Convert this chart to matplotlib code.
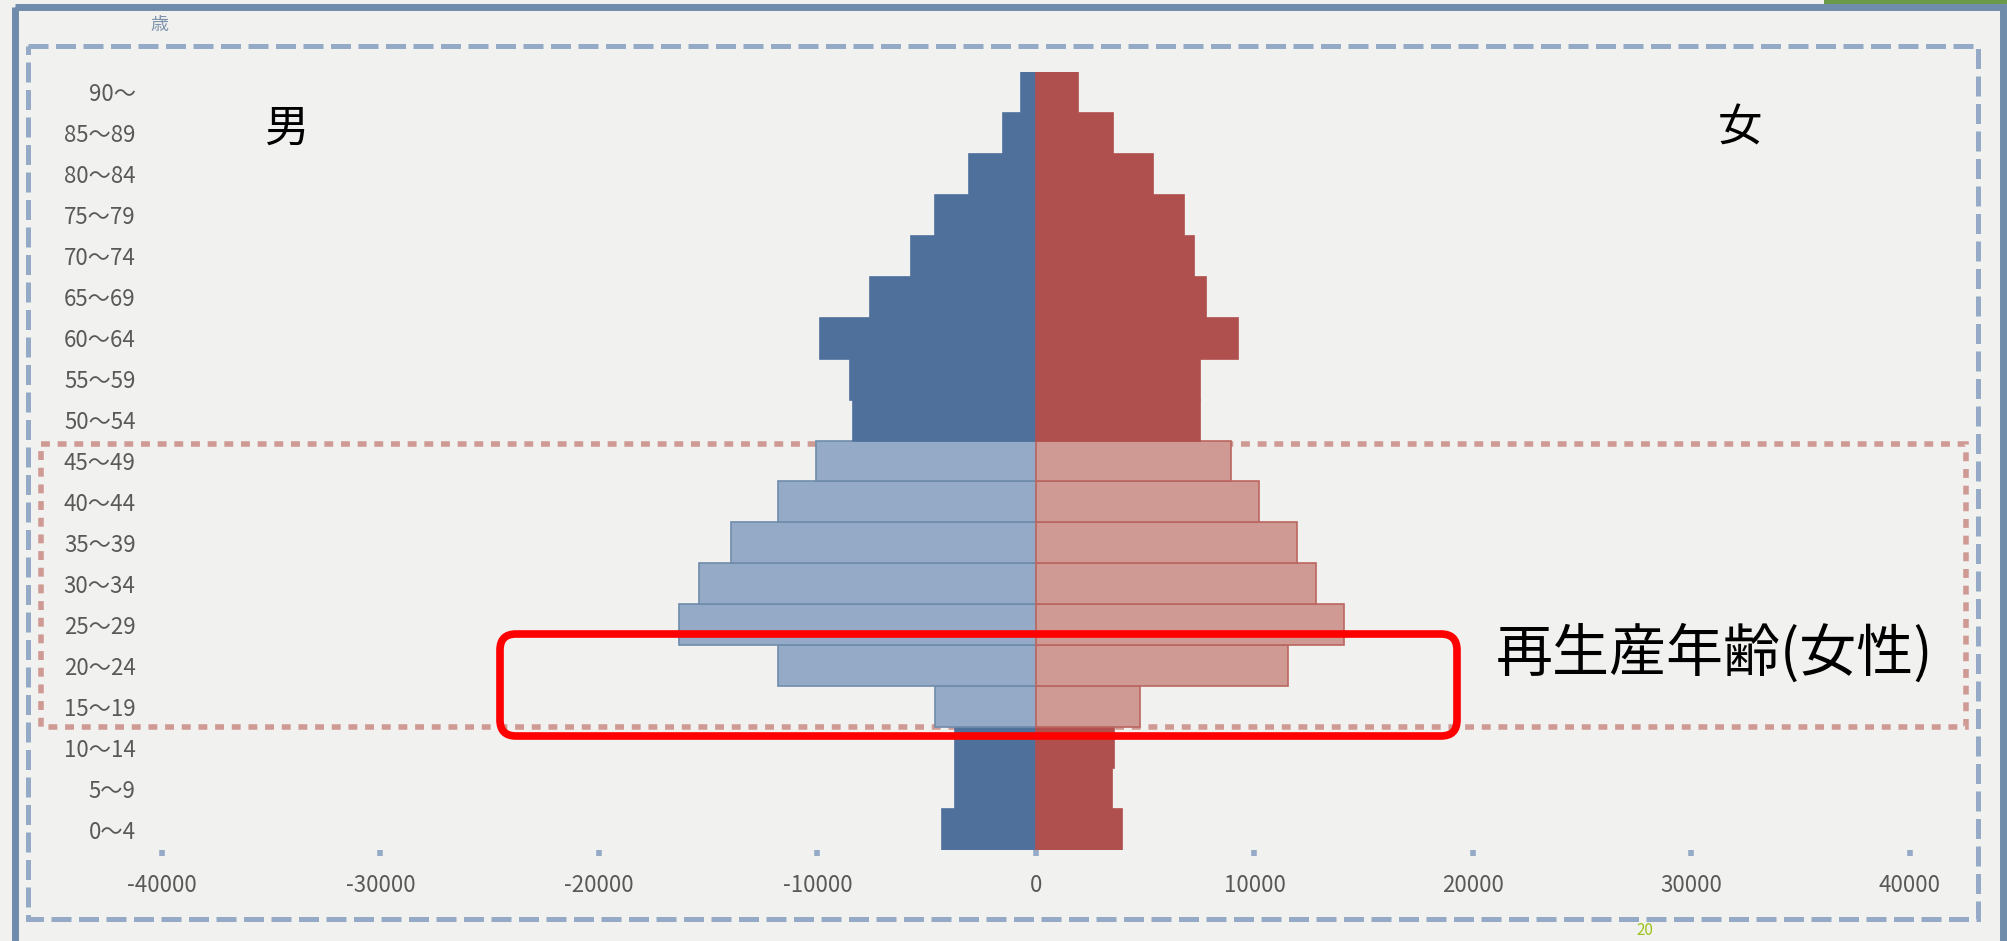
import numpy as np
import matplotlib
matplotlib.use('Agg')
import matplotlib.pyplot as plt
from matplotlib.patches import Rectangle, FancyBboxPatch

plt.rcParams['font.family'] = ['Noto Sans CJK JP', 'DejaVu Sans']

# age groups, bottom to top
age_labels = ['0～4', '5～9', '10～14', '15～19', '20～24', '25～29', '30～34',
              '35～39', '40～44', '45～49', '50～54', '55～59', '60～64',
              '65～69', '70～74', '75～79', '80～84', '85～89', '90～']
male = [4300, 3710, 3710, 4620, 11810, 16340, 15420, 13960, 11810, 10070,
        8380, 8510, 9890, 7600, 5720, 4620, 3070, 1510, 690]
female = [3940, 3480, 3570, 4760, 11530, 14100, 12810, 11950, 10210, 8920,
          7510, 7510, 9240, 7780, 7230, 6770, 5350, 3520, 1920]
# reproductive age (female) groups, highlighted in light colours
repro_ages = ['15～19', '20～24', '25～29', '30～34', '35～39', '40～44', '45～49']

x_ticks = [-40000, -30000, -20000, -10000, 0, 10000, 20000, 30000, 40000]
x_tick_labels = ['-40000', '-30000', '-20000', '-10000', '0',
                 '10000', '20000', '30000', '40000']

bg = '#f1f1ef'
male_dark, male_light = '#50709c', '#94aac6'
fem_dark, fem_light = '#b0504e', '#cf9a94'

W, H = 2008, 941
fig = plt.figure(figsize=(W / 100, H / 100), dpi=100)
fig.patch.set_facecolor(bg)

# background overlay in pixel units (frame + dashed boxes)
back = fig.add_axes([0, 0, 1, 1], zorder=0)
back.set_xlim(0, W)
back.set_ylim(H, 0)
back.axis('off')
back.add_patch(Rectangle((15.5, 7), 1988, 960, fill=False, ec='#6f8cab', lw=5))
back.add_patch(Rectangle((1824, 0), 184, 4, fc='#6a9a4a', ec='none'))
back.add_patch(Rectangle((28, 46), 1950, 873, fill=False, ec=male_light,
                         lw=3.6, ls=(0, (4, 1.5))))
back.add_patch(Rectangle((41, 444), 1925, 283, fill=False, ec=fem_light,
                         lw=4.0, ls=(0, (1.6, 1.4))))

# main pyramid
ax = fig.add_axes([162 / W, 91 / H, 1748 / W, 778 / H], zorder=1)
ax.patch.set_alpha(0)
y = np.arange(len(age_labels))
is_repro = [a in repro_ages for a in age_labels]
mcol = [male_light if r else male_dark for r in is_repro]
fcol = [fem_light if r else fem_dark for r in is_repro]
medge = ['#6f8cab' if r else male_dark for r in is_repro]
fedge = ['#bb6660' if r else fem_dark for r in is_repro]
ax.barh(y, -np.array(male), height=1.0, color=mcol, edgecolor=medge, linewidth=1.2)
ax.barh(y, female, height=1.0, color=fcol, edgecolor=fedge, linewidth=1.2)

ax.set_xlim(-40000, 40000)
ax.set_ylim(-0.5, len(age_labels) - 0.5)
ax.set_yticks(y)
ax.set_yticklabels(age_labels, fontsize=16, color='#595959')
ax.set_xticks(x_ticks)
ax.set_xticklabels(x_tick_labels, fontsize=16, color='#595959')
ax.tick_params(axis='y', length=0, pad=19)
ax.tick_params(axis='x', length=4, width=4, color=male_light, direction='out', pad=13)
for s in ax.spines.values():
    s.set_visible(False)

# foreground overlay: red box and texts
front = fig.add_axes([0, 0, 1, 1], zorder=2)
front.patch.set_alpha(0)
front.set_xlim(0, W)
front.set_ylim(H, 0)
front.axis('off')
front.add_patch(FancyBboxPatch((500, 634), 957, 102,
                               boxstyle='round,pad=0,rounding_size=16',
                               fill=False, ec='#ff0000', lw=5.5))
front.text(1496, 654, '再生産年齢(女性)', fontsize=41, color='black',
           ha='left', va='center')
front.text(286, 129, '男', fontsize=32, color='black', ha='center', va='center')
front.text(1740, 129, '女', fontsize=32, color='black', ha='center', va='center')
front.text(159, 25, '歳', fontsize=13, color='#7f93ad', ha='center', va='center')
front.text(1636, 939, '20', fontsize=11, color='#9ac31c', ha='left', va='bottom')

fig.savefig('out.png', dpi=100, facecolor=fig.get_facecolor())
